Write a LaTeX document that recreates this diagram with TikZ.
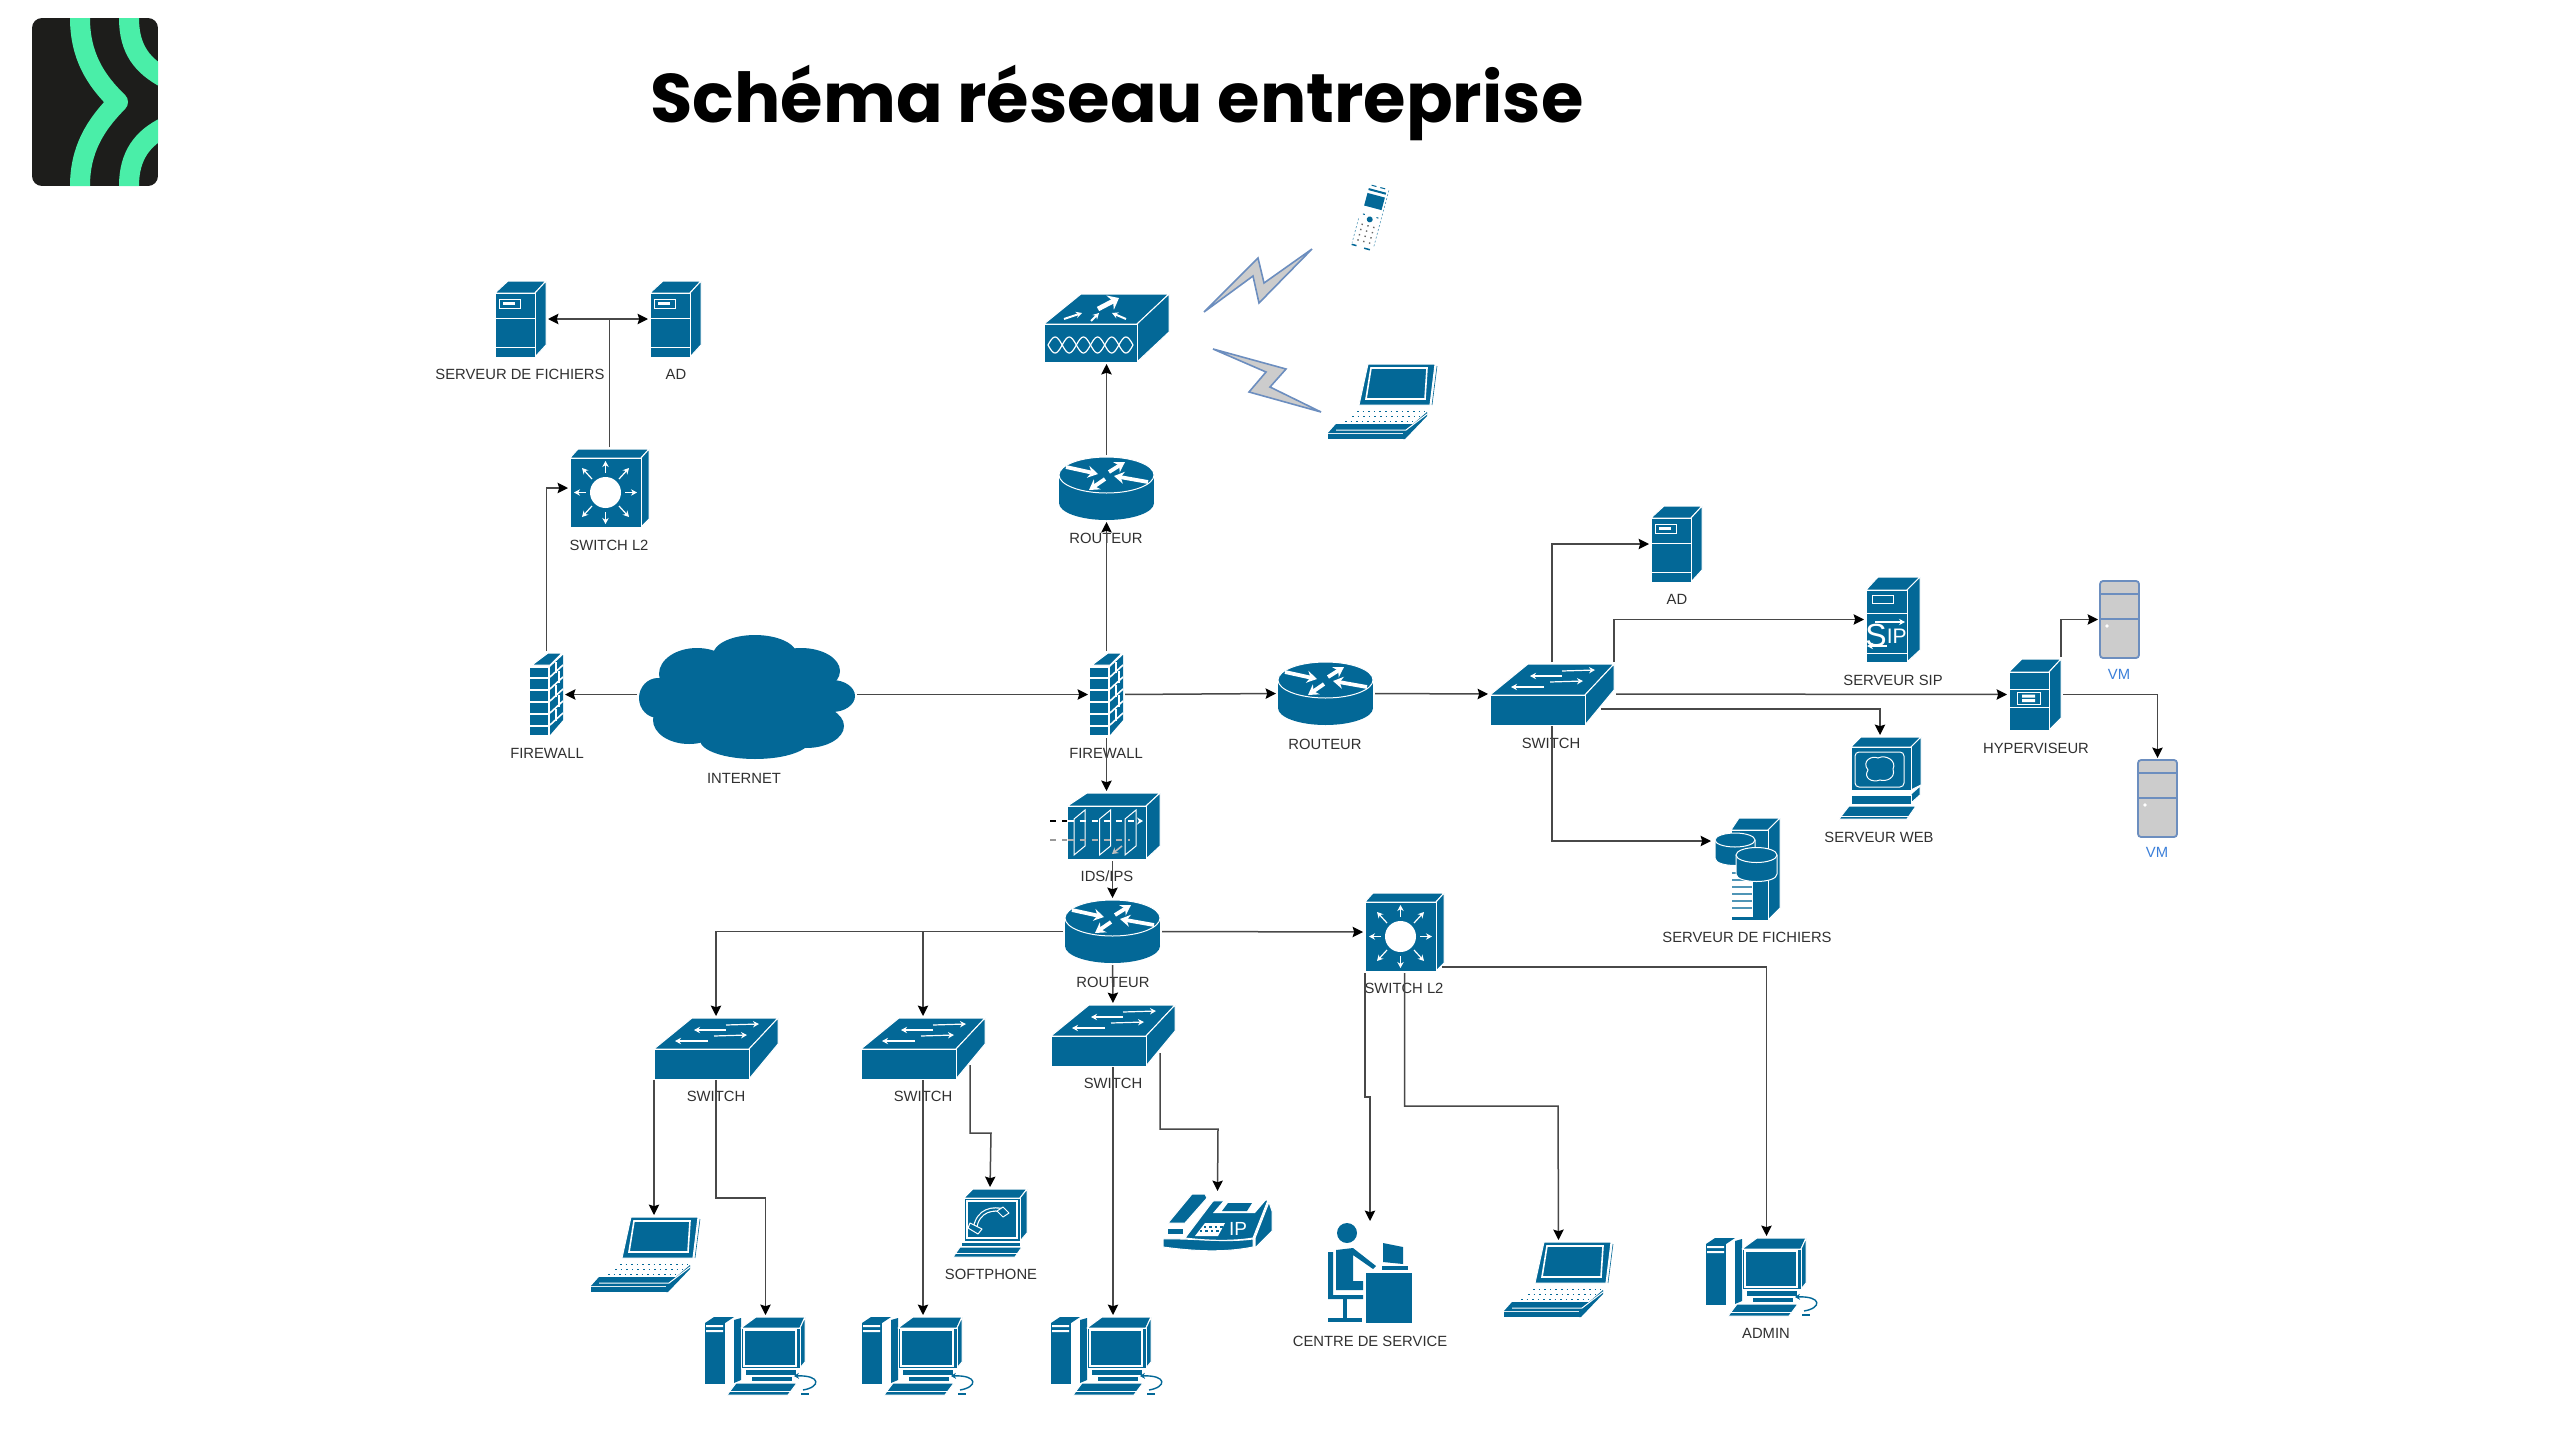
\documentclass[tikz,border=0pt]{standalone}
\usepackage{fontspec}
\setmainfont{Liberation Sans}
\newfontfamily\titlefont{Poppins}
\usetikzlibrary{positioning, calc, arrows.meta}
\definecolor{cisco}{HTML}{036897}
\definecolor{ink}{HTML}{303030}
\definecolor{wire}{HTML}{484848}
\definecolor{logodark}{HTML}{1D1D1B}
\definecolor{logogreen}{HTML}{4AEEA8}
\definecolor{vmfill}{HTML}{CCCCCC}
\definecolor{vmline}{HTML}{6C8EBF}
\definecolor{vmtext}{HTML}{3B7FD9}
\tikzset{
  Blue/.style={fill=cisco, draw=white, line width=.5pt, line join=round},
  Solid/.style={fill=cisco, draw=none},
  Wline/.style={draw=white, line width=.5pt},
  Warrow/.style={draw=white, line width=1.9pt, -{Stealth[length=5pt,width=6pt]}},
  Wthin/.style={draw=white, line width=.6pt, -{Stealth[length=3pt,width=3.2pt]}},
  Conn/.style={draw=wire, line width=.75pt, -{Stealth[length=5.2pt,width=5.2pt,inset=.8pt,color=black]}, shorten >=1pt, shorten <=1pt},
  Bolt/.style={fill=vmfill, draw=vmline, line width=.8pt, line join=miter},
  Txt/.style={font=\fontsize{7.4}{9}\selectfont, text=ink, inner sep=0},
  VmTxt/.style={font=\fontsize{7.4}{9}\selectfont, text=vmtext, inner sep=0},
  Dev/.style n args={3}{shape=rectangle, anchor=north west, inner sep=0, outer sep=0,
    minimum width=#1*.5pt, minimum height=#2*.5pt,
    append after command={pic at (\tikzlastnode.north west) {#3}}},
  Router/.style={Dev={95}{63}{router}},
  SwitchBox/.style={Dev={124}{60}{switchbox}},
  Server/.style={Dev={51}{76}{server}},
  SwitchL/.style={Dev={79}{78}{switchl}},
  Firewall/.style={Dev={33}{83}{firewall}},
  Internet/.style={Dev={216}{124}{internet}},
  Wifi/.style={Dev={125}{68}{wifi}},
  Ids/.style={Dev={110}{66}{ids}},
  Sip/.style={Dev={54}{85}{sip}},
  Hyper/.style={Dev={52}{71}{hyper}},
  Web/.style={Dev={82}{82}{web}},
  Files/.style={Dev={65}{102}{files}},
  Vm/.style={Dev={39}{77}{vm}},
  Handset/.style={Dev={37}{67}{handset}},
  Laptop/.style={Dev={109}{75}{laptop}},
  Pc/.style={Dev={121}{79}{pc}},
  Softphone/.style={Dev={74}{68}{softphone}},
  IpPhone/.style={Dev={109}{58}{ipphone}},
  Operator/.style={Dev={84}{100}{operator}},
  pics/router/.style={code={
    \fill[cisco] (0,18) rectangle (95,46);
    \fill[cisco] (47.5,46) ellipse [x radius=47.5, y radius=17];
    \path[Blue] (47.5,18) ellipse [x radius=47.5, y radius=18];
    \draw[Warrow] (7,10) -- (39,17);
    \draw[Warrow] (89,25) -- (55,19);
    \draw[Warrow] (50,15) -- (66,5);
    \draw[Warrow] (46,22) -- (30,33);
  }},
  pics/switchbox/.style={code={
    \path[Blue] (0,31) -- (38,0) -- (124,0) -- (95,31) -- cycle;
    \path[Blue] (95,31) -- (124,0) -- (124,26) -- (95,61) -- cycle;
    \path[Blue] (0,31) rectangle (95,61);
    \draw[Wthin] (72,7) -- (105,6);
    \draw[Wthin] (72,12) -- (40,12);
    \draw[Wthin] (60,18) -- (93,17);
    \draw[Wthin] (54,23) -- (21,23);
  }},
  pics/server/.style={code={
    \path[Blue] (0,12) -- (13,0) -- (51,0) -- (40,12) -- cycle;
    \path[Blue] (40,12) -- (51,0) -- (51,64) -- (40,76) -- cycle;
    \path[Blue] (0,12) rectangle (40,76);
    \draw[Wline] (0,37) -- (40,37) (0,66) -- (40,66);
    \draw[Wline] (4,18) rectangle (25,27);
    \fill[white] (8,21) rectangle (20,24);
  }},
  pics/switchl/.style={code={
    \path[Blue] (0,9) -- (8,0) -- (79,0) -- (71,9) -- cycle;
    \path[Blue] (71,9) -- (79,0) -- (79,70) -- (71,78) -- cycle;
    \path[Blue] (0,9) rectangle (71,78);
    \fill[white] (35.5,43.5) ellipse [x radius=15.5, y radius=15.5];
    \draw[Wthin] (35.5,24) -- (35.5,12);
    \draw[Wthin] (35.5,63) -- (35.5,75);
    \draw[Wthin] (16,43.5) -- (4,43.5);
    \draw[Wthin] (55,43.5) -- (67,43.5);
    \draw[Wthin] (22,30) -- (12,19);
    \draw[Wthin] (49,30) -- (59,19);
    \draw[Wthin] (22,57) -- (12,68);
    \draw[Wthin] (49,57) -- (59,68);
  }},
  pics/firewall/.style={code={
    \path[Blue] (2,12) -- (18,0) -- (32,0) -- (20,12) -- cycle;
    \path[Solid] (20,14) -- (33,2) -- (33,67) -- (20,82) -- cycle;
    \path[Solid] (0,15) rectangle (18,82);
    \draw[Wline, line width=.8pt] (0,25) -- (18,25) (0,37) -- (18,37) (0,49) -- (18,49)
      (0,61) -- (18,61) (0,73) -- (18,73);
    \draw[Wline, line width=.8pt] (20,24) -- (33,12) (20,36) -- (33,24) (20,48) -- (33,36)
      (20,60) -- (33,48) (20,72) -- (33,60);
    \draw[Wline, line width=.8pt] (26,9) -- (26,20) (29,18) -- (29,30) (26,32) -- (26,44)
      (29,42) -- (29,54) (26,56) -- (26,68);
  }},
  pics/internet/.style={code={
    \fill[cisco] (116,20) ellipse [x radius=42, y radius=20];
    \fill[cisco] (58,39) ellipse [x radius=38, y radius=26];
    \fill[cisco] (162,36) ellipse [x radius=39, y radius=23];
    \fill[cisco] (19,63) ellipse [x radius=19, y radius=20];
    \fill[cisco] (193,61) ellipse [x radius=23, y radius=16];
    \fill[cisco] (50,85) ellipse [x radius=36, y radius=24];
    \fill[cisco] (116,105) ellipse [x radius=55, y radius=19];
    \fill[cisco] (167,91) ellipse [x radius=38, y radius=22];
    \fill[cisco] (108,62) ellipse [x radius=85, y radius=45];
  }},
  pics/wifi/.style={code={
    \path[Blue] (0,30) -- (37,0) -- (125,0) -- (93,30) -- cycle;
    \path[Blue] (93,30) -- (125,0) -- (125,38) -- (93,68) -- cycle;
    \path[Blue] (0,30) rectangle (93,68);
    \draw[white, line width=.6pt, domain=0:1, samples=73, smooth] plot ({4+85*\x},{51+8*sin(1080*\x)});
    \draw[white, line width=.6pt, domain=0:1, samples=73, smooth] plot ({4+85*\x},{51-8*sin(1080*\x)});
    \draw[white, line width=2.4pt, -{Stealth[length=5pt,width=8pt]}] (54,15) -- (75,4);
    \draw[Wthin, line width=1pt] (20,25) -- (38,19);
    \draw[Wthin, line width=1pt] (47,27) -- (55,19);
    \draw[Wthin, line width=1pt] (82,25) -- (68,19);
  }},
  pics/ids/.style={code={
    \path[Blue] (17.5,13) -- (37,0) -- (110,0) -- (96,13) -- cycle;
    \path[Blue] (96,13) -- (110,0) -- (110,53) -- (96,66) -- cycle;
    \path[Blue] (17.5,13) rectangle (96,66);
    \draw[Wline] (24,62) -- (24,26) -- (35,17) -- (35,53) -- cycle;
    \draw[Wline] (49.5,62) -- (49.5,26) -- (60.5,17) -- (60.5,53) -- cycle;
    \draw[Wline] (75,62) -- (75,26) -- (86,17) -- (86,53) -- cycle;
    \draw[black, line width=.6pt, dashed] (0,28) -- (17,28);
    \draw[white, line width=.6pt, dashed, -{Stealth[length=3pt,width=3.5pt]}] (17.5,28) -- (93,28);
    \draw[black!40, line width=.6pt, dashed] (0,47) -- (17,47);
    \draw[white!70!black, line width=.6pt, dashed] (17.5,47) -- (80,47);
    \draw[black!25, line width=.8pt, -{Stealth[length=3pt,width=3.5pt]}] (72,53) -- (62,61);
  }},
  pics/sip/.style={code={
    \path[Blue] (0,13) -- (12,0) -- (54,0) -- (41,13) -- cycle;
    \path[Blue] (41,13) -- (54,0) -- (54,73) -- (41,85) -- cycle;
    \path[Blue] (0,13) rectangle (41,85);
    \draw[Wline] (6,18) rectangle (27,26);
    \draw[Wline] (0,36) -- (41,36) (0,76) -- (41,76);
    \draw[Wthin] (9,45) -- (39,45);
    \draw[Wthin] (21,69) -- (1,69);
    \node[text=white, inner sep=0] (siptxt) at (20,58) {\fontsize{16}{16}\selectfont S\raisebox{1.5pt}{\fontsize{10.5}{10.5}\selectfont IP}};
  }},
  pics/hyper/.style={code={
    \path[Blue] (0,13) -- (13,0) -- (52,0) -- (40,13) -- cycle;
    \path[Blue] (40,13) -- (52,0) -- (52,59) -- (40,71) -- cycle;
    \path[Blue] (0,13) rectangle (40,71);
    \draw[Wline] (0,30) -- (40,30) (0,48) -- (40,48);
    \draw[Wline] (8,33) rectangle (31,45);
    \fill[white] (13,35.5) rectangle (26,38.5) (13,40) rectangle (26,43);
  }},
  pics/web/.style={code={
    \path[Blue] (12,10) -- (22,0) -- (82,0) -- (72,10) -- cycle;
    \path[Blue] (72,10) -- (82,0) -- (82,48) -- (72,53) -- cycle;
    \path[Blue] (12,10) rectangle (72,53);
    \draw[Wline, rounded corners=2pt] (16,15) rectangle (65,50);
    \draw[Wline] (29,33) .. controls (22,24) and (33,18) .. (39,21)
      .. controls (47,17) and (58,24) .. (54,32)
      .. controls (57,41) and (47,45) .. (41,43)
      .. controls (33,46) and (24,41) .. (29,33) -- cycle;
    \path[Blue] (72,57) -- (81,49) -- (81,58) -- (72,66) -- cycle;
    \path[Blue] (12,58) rectangle (72,67);
    \path[Blue] (0,82) -- (10,69) -- (77,69) -- (68,82) -- cycle;
    \draw[Wline] (1,79) -- (70,79);
  }},
  pics/files/.style={code={
    \path[Blue] (16,12) -- (24,0) -- (65,0) -- (53,12) -- cycle;
    \path[Blue] (53,12) -- (65,0) -- (65,90) -- (53,102) -- cycle;
    \path[Blue] (16,12) rectangle (53,102);
    \fill[white] (16,48) rectangle (38,99);
    \draw[cisco!70, line width=.9pt] (17,55) -- (37,55) (17,62) -- (37,62) (17,69) -- (37,69)
      (17,76) -- (37,76) (17,83) -- (37,83) (17,90) -- (37,90);
    \path[Blue] (0,22) -- (0,40) .. controls (0,50) and (40,50) .. (40,40) -- (40,22) -- cycle;
    \path[Blue] (20,22) ellipse [x radius=20, y radius=7];
    \path[Blue] (21,37) -- (21,56) .. controls (21,66) and (62,66) .. (62,56) -- (62,37) -- cycle;
    \path[Blue] (41.5,37) ellipse [x radius=20.5, y radius=7.5];
  }},
  pics/vm/.style={code={
    \draw[fill=vmfill, draw=vmline, line width=.9pt, rounded corners=1.5pt] (0,0) rectangle (39,77);
    \draw[vmline, line width=.9pt] (0,13) -- (39,13) (0,38) -- (39,38);
    \fill[white] (7,45) circle [radius=1.8];
  }},
  pics/handset/.style={code={
    \begin{scope}[shift={(18.5,33.5)}, rotate=-15]
      \fill[cisco] (-7,-31) rectangle (-2,-30) (2,-31) rectangle (7,-30);
      \fill[cisco] (-9,-27) rectangle (9,-25);
      \fill[cisco] (-9,-22) rectangle (9,-9);
      \fill[cisco] (0,3) circle [radius=3];
      \fill[cisco] (-8,-1) rectangle (-6,0) (6,-1) rectangle (8,0);
      \draw[black!60, line width=.7pt, dotted] (-6,9) -- (-6,28) (0,9) -- (0,28) (6,9) -- (6,28);
      \draw[cisco!70, line width=.3pt, dash pattern=on 1pt off 1pt] (-11,5) -- (-11,30) (11,-30) -- (11,30);
      \fill[cisco] (-11,31) rectangle (-6,32.5) (2,31.5) rectangle (8,33);
    \end{scope}
  }},
  pics/laptop/.style={code={
    \path[Blue] (40,0) -- (107,0) -- (102,41) -- (31,41) -- cycle;
    \draw[Wline, line width=.8pt] (43,4) -- (99,4) -- (97,35) -- (38,35) -- cycle;
    \draw[cisco, line width=.3pt] (109,2) -- (104,41);
    \draw[cisco, line width=.5pt, dash pattern=on .8pt off 2pt] (29,47) -- (97,47) (24,52) -- (92,52) (17,57) -- (85,57);
    \fill[cisco] (8,60) -- (85,60) -- (99,48) -- (99,52) -- (77,75) -- (75,75) -- (75,69) -- (0,69) -- cycle;
    \fill[cisco] (0,70) rectangle (75,75);
    \draw[Wline] (8,66) -- (78,66) -- (99,50);
  }},
  pics/pc/.style={code={
    \path[Solid] (0,6) -- (9,0) -- (29,0) -- (20,6) -- cycle;
    \path[Solid] (29,3) -- (36,1) -- (36,63) -- (29,66) -- cycle;
    \path[Solid] (0,6) rectangle (20,67);
    \fill[white] (1,8) rectangle (18,10) (1,13) rectangle (18,15);
    \path[Blue] (36,11) -- (51,0) -- (100,0) -- (95,11) -- cycle;
    \path[Blue] (95,11) -- (100,0) -- (100,45) -- (95,51) -- cycle;
    \path[Blue] (36,11) rectangle (95,51);
    \draw[Wline, line width=.8pt] (39,13) rectangle (91,49);
    \fill[cisco] (41,53) rectangle (91,58);
    \fill[cisco] (47,60) rectangle (87,64);
    \path[Blue] (22,78) -- (31,66) -- (92,66) -- (83,78) -- cycle;
    \draw[Wline] (24,74) -- (86,74);
    \draw[cisco, line width=.7pt, -{Stealth[length=2.5pt,width=3pt]}] (98,73) .. controls (116,70) and (116,58) .. (89,59);
    \draw[cisco, line width=.7pt] (96,77) -- (104,77);
  }},
  pics/softphone/.style={code={
    \path[Blue] (11,9) -- (20,0) -- (74,0) -- (67,9) -- cycle;
    \path[Blue] (67,9) -- (74,0) -- (74,44) -- (67,52) -- cycle;
    \path[Blue] (11,9) rectangle (67,52);
    \draw[Wline, line width=.8pt] (14,12) rectangle (64,49);
    \draw[white, line width=2.2pt] (22,39) .. controls (25,21) and (40,18) .. (52,22);
    \draw[cisco, line width=1pt] (22,39) .. controls (25,21) and (40,18) .. (52,22);
    \path[Blue] (17,34) -- (29,40) -- (25,45) -- (15,39) -- cycle;
    \path[Blue] (44,22) -- (50,18) -- (56,24) -- (50,28) -- cycle;
    \fill[cisco] (9,54) rectangle (67,57);
    \path[Blue] (0,68) -- (7,58) -- (69,58) -- (62,68) -- cycle;
    \draw[Wline] (2,64) -- (65,64);
  }},
  pics/ipphone/.style={code={
    \path[Blue] (0,46) .. controls (30,45) and (60,50) .. (90,46) -- (90,54) .. controls (60,60) and (30,58) .. (0,54) -- cycle;
    \path[Blue] (22,45) -- (50,8) -- (105,7) -- (90,45) .. controls (65,49) and (40,47) .. (22,45) -- cycle;
    \path[Blue] (92,45) -- (106,9) -- (109,18) -- (109,38) -- (92,55) -- cycle;
    \path[Blue] (5,30) -- (29,1) -- (42,1) -- (44,5) -- (22,30) -- cycle;
    \path[Blue] (4,35) rectangle (20,41);
    \fill[white] (50,20) -- (62,6) -- (104,6) -- (92,20) -- cycle;
    \fill[cisco] (59,18) -- (65,10) -- (89,10) -- (84,18) -- cycle;
    \fill[white] (32,43) -- (42,30) -- (62,30) -- (55,43) -- cycle;
    \draw[cisco, line width=.6pt, dash pattern=on 1.2pt off 1.5pt] (41,34) -- (60,34) (37,38) -- (58,38);
    \node[text=white, font=\fontsize{9.5}{10}\selectfont, inner sep=0] (iptxt) at (75,36) {IP};
  }},
  pics/operator/.style={code={
    \fill[cisco] (19,10) ellipse [x radius=10, y radius=10];
    \fill[cisco] (8,27) -- (25,25) -- (48,43) -- (45,46) -- (25,32) -- (25,58) -- (35,58) -- (35,67) -- (8,67) -- cycle;
    \fill[cisco] (0,29) -- (5,29) -- (5,72) -- (35,72) -- (35,76) -- (0,76) -- cycle;
    \fill[cisco] (15,76) rectangle (19,95);
    \fill[cisco] (0,95) rectangle (34,99);
    \fill[cisco] (38,50) rectangle (84,100);
    \fill[cisco] (54,43) rectangle (80,47);
    \fill[cisco] (55,20) -- (75,24) -- (75,41) -- (55,39) -- cycle;
  }},
}

\begin{document}
\begin{tikzpicture}[x=.5pt, y=-.5pt]
\useasboundingbox (0,0) rectangle (2560,1440);

% logo
\begin{scope}
\clip[rounded corners=5pt] (32,18) rectangle (158,186);
\fill[logodark] (32,18) rectangle (158,186);
\draw[logogreen, line width=10pt, line join=round] (80,10) -- (80,18) .. controls (80,55) and (95,80) .. (118,102)
  .. controls (95,125) and (80,150) .. (80,186) -- (80,194);
\draw[logogreen, line width=10pt] (129,10) -- (129,18) .. controls (129,50) and (143,66) .. (165,78);
\draw[logogreen, line width=10pt] (129,194) -- (129,186) .. controls (129,155) and (143,138) .. (165,127);
\end{scope}

\node[font=\titlefont\bfseries\fontsize{34.4}{40}\selectfont, text=black, inner sep=0] (title) at (1117,103) {Schéma réseau entreprise};

% wireless links
\path[Bolt] (1204,312) -- (1258,258) -- (1264,283) -- (1312,249) -- (1259,303) -- (1253,276) -- cycle;
\path[Bolt] (1213,349) -- (1286,369) -- (1270,387) -- (1321,412) -- (1249,392) -- (1266,372) -- cycle;

% nodes
\node[Server] (srvfilesa) at (495,281) {};
\node[Txt] (srvfilesatxt) at (520,374) {SERVEUR DE FICHIERS};
\node[Server] (ada) at (650,281) {};
\node[Txt] (adatxt) at (676,374) {AD};
\node[SwitchL] (swla) at (570,449) {};
\node[Txt] (swlatxt) at (609,545) {SWITCH L2};
\node[Firewall] (fwa) at (530,653) {};
\node[Txt] (fwatxt) at (547,753) {FIREWALL};
\node[Internet] (internet) at (639,635) {};
\node[Txt] (internettxt) at (744,778) {INTERNET};
\node[Firewall] (fwb) at (1090,653) {};
\node[Txt] (fwbtxt) at (1106,753) {FIREWALL};

\node[Wifi] (wifi) at (1044,294) {};
\node[Handset] (handset) at (1352,183) {};
\node[Laptop] (laptopwifi) at (1328,364) {};
\node[Router] (routerwifi) at (1059,457) {};
\node[Txt] (routerwifitxt) at (1106,538) {ROUTEUR};

\node[Router] (routermid) at (1278,662) {};
\node[Txt] (routermidtxt) at (1325,744) {ROUTEUR};
\node[SwitchBox] (swcore) at (1490,664) {};
\node[Txt] (swcoretxt) at (1551,743) {SWITCH};
\node[Server] (adb) at (1651,506) {};
\node[Txt] (adbtxt) at (1677,599) {AD};
\node[Sip] (sip) at (1866,577) {};
\node[Txt] (siplabel) at (1893,680) {SERVEUR SIP};
\node[Hyper] (hyper) at (2009,659) {};
\node[Txt] (hypertxt) at (2036,748) {HYPERVISEUR};
\node[Vm] (vma) at (2100,581) {};
\node[VmTxt] (vmatxt) at (2119,674) {VM};
\node[Vm] (vmb) at (2138,760) {};
\node[VmTxt] (vmbtxt) at (2157,852) {VM};
\node[Web] (web) at (1839,737) {};
\node[Txt] (webtxt) at (1879,837) {SERVEUR WEB};
\node[Files] (srvfilesb) at (1715,818) {};
\node[Txt] (srvfilesbtxt) at (1747,937) {SERVEUR DE FICHIERS};

\node[Ids] (ids) at (1050,793) {};
\node[Txt] (idstxt) at (1107,876) {IDS/IPS};
\node[Router] (routerlan) at (1065,900) {};
\node[Txt] (routerlantxt) at (1113,982) {ROUTEUR};
\node[SwitchL] (swlb) at (1365,893) {};
\node[Txt] (swlbtxt) at (1404,988) {SWITCH L2};

\node[SwitchBox] (swa) at (654,1018) {};
\node[Txt] (swatxt) at (716,1096) {SWITCH};
\node[SwitchBox] (swb) at (861,1018) {};
\node[Txt] (swbtxt) at (923,1096) {SWITCH};
\node[SwitchBox] (swc) at (1051,1005) {};
\node[Txt] (swctxt) at (1113,1083) {SWITCH};

\node[Laptop] (laptopa) at (591,1217) {};
\node[Pc] (pca) at (705,1317) {};
\node[Pc] (pcb) at (862,1317) {};
\node[Softphone] (softphone) at (953,1189) {};
\node[Txt] (softphonetxt) at (991,1274) {SOFTPHONE};
\node[Pc] (pcc) at (1051,1317) {};
\node[IpPhone] (ipphone) at (1163,1193) {};
\node[Operator] (service) at (1328,1223) {};
\node[Txt] (servicetxt) at (1370,1341) {CENTRE DE SERVICE};
\node[Laptop] (laptopb) at (1504,1242) {};
\node[Pc] (pcadmin) at (1706,1238) {};
\node[Txt] (admintxt) at (1766,1333) {ADMIN};

% bends and free ends
\coordinate (bendpca) at (716,1198);
\coordinate (swbout) at (970,1063);
\coordinate (bendsoft) at (991,1133);
\coordinate (swcout) at (1160,1051);
\coordinate (bendip) at (1218,1129);
\coordinate (bendservice) at (1370,1097);
\coordinate (bendlaptop) at (1558,1106);
\coordinate (swlbout) at (1440,967);
\coordinate (swcoreout) at (1599,709);
\coordinate (filesin) at (1713,841);

% arrows
\draw[Conn] (swla.north) |- (srvfilesa.east);
\draw[Conn] (swla.north) |- (ada.west);
\draw[Conn] (fwa.north) |- (swla.west);
\draw[Conn] (internet.west |- fwa.east) -- (fwa.east);
\draw[Conn] (internet.east |- fwb.west) -- (fwb.west);
\draw[Conn] (fwb.north) -- (routerwifi.south);
\draw[Conn] (routerwifi.north) -- (wifi.south);
\draw[Conn] (fwb.east) -- (routermid.west);
\draw[Conn] (routermid.east) -- (swcore.west);
\draw[Conn] (swcore.north) |- (adb.west);
\draw[Conn] (swcore.north east) |- (sip.west);
\draw[Conn] (swcore.east) -- (hyper.west);
\draw[Conn] (swcoreout) -| (web.north);
\draw[Conn] (swcore.south) |- (filesin);
\draw[Conn] (hyper.north east) |- (vma.west);
\draw[Conn] (hyper.east) -| (vmb.north);
\draw[Conn] (fwb.south) -- (fwb.south |- ids.north);
\draw[Conn] (routerlan.north |- ids.south) -- (routerlan.north);
\draw[Conn] (routerlan.west) -| (swa.north);
\draw[Conn] (routerlan.west) -| (swb.north);
\draw[Conn] (routerlan.south) -- (swc.north);
\draw[Conn] (routerlan.east) -- (swlb.west);
\draw[Conn] (swa.south west) -- (swa.south west |- laptopa.north);
\draw[Conn] (swa.south) -- (bendpca) -| (pca.north);
\draw[Conn] (swb.south) -- (swb.south |- pcb.north);
\draw[Conn] (swbout) |- (bendsoft) -- (softphone.north);
\draw[Conn] (swc.south) -- (swc.south |- pcc.north);
\draw[Conn] (swcout) |- (bendip) -- (ipphone.north);
\draw[Conn] (swlb.south west) |- (bendservice) -- (service.north);
\draw[Conn] (swlb.south) |- (bendlaptop) -- (laptopb.north);
\draw[Conn] (swlbout) -| (pcadmin.north);
\end{tikzpicture}
\end{document}
